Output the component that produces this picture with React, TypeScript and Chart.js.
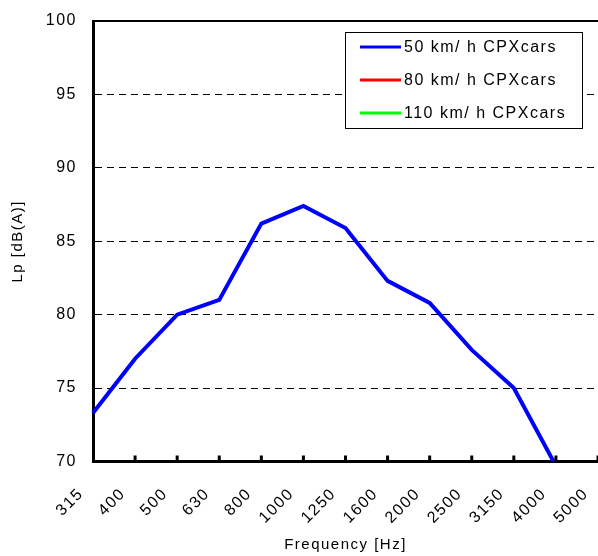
import React, { useEffect, useRef } from "react";
import { Chart, registerables } from "chart.js";

Chart.register(...registerables);

const frequencies = ["315", "400", "500", "630", "800", "1000", "1250", "1600", "2000", "2500", "3150", "4000", "5000"];
const lp50: (number | null)[] = [73.3, 77.0, 80.0, 81.0, 86.2, 87.4, 85.9, 82.3, 80.8, 77.6, 75.0, 69.7, null];
const lp80: (number | null)[] = [];
const lp110: (number | null)[] = [];
const seriesLabels = ["50 km/ h CPXcars", "80 km/ h CPXcars", "110 km/ h CPXcars"];
const seriesColors = ["#0000ff", "#ff0000", "#00ff00"];
const yMin = 70;
const yMax = 100;
const yStep = 5;

const FONT = "'Liberation Sans', Arial, sans-serif";
const SPACING = "1.5px";

const spacingPlugin = {
  id: "spacing",
  beforeInit(chart: any) { chart.ctx.letterSpacing = SPACING; },
  beforeUpdate(chart: any) { chart.ctx.letterSpacing = SPACING; },
  beforeLayout(chart: any) { chart.ctx.letterSpacing = SPACING; },
  beforeDraw(chart: any) { chart.ctx.letterSpacing = SPACING; },
};

const framePlugin = {
  id: "frame",
  afterDraw(chart: any) {
    const { ctx, chartArea } = chart;
    const xs = chart.scales.x;
    ctx.save();
    // top border
    ctx.strokeStyle = "#000";
    ctx.lineWidth = 2;
    ctx.beginPath();
    ctx.moveTo(chartArea.left, chartArea.top);
    ctx.lineTo(chartArea.right, chartArea.top);
    ctx.stroke();
    // inner tick marks on x axis
    ctx.lineWidth = 3;
    ctx.beginPath();
    for (let i = 1; i < xs.ticks.length; i++) {
      const px = xs.getPixelForTick(i);
      ctx.moveTo(px, chartArea.bottom);
      ctx.lineTo(px, chartArea.bottom - 6);
    }
    ctx.stroke();

    // legend box
    const bx = 345, by = 32, bw = 237, bh = 96;
    ctx.fillStyle = "#fff";
    ctx.fillRect(bx, by, bw, bh);
    ctx.lineWidth = 1;
    ctx.strokeStyle = "#000";
    ctx.strokeRect(bx + 0.5, by + 0.5, bw, bh);
    ctx.font = `16px ${FONT}`;
    ctx.textBaseline = "middle";
    ctx.textAlign = "left";
    chart.data.datasets.forEach((ds: any, i: number) => {
      const y = by + 15 + i * 33;
      ctx.strokeStyle = ds.borderColor;
      ctx.lineWidth = 3;
      ctx.beginPath();
      ctx.moveTo(bx + 15, y);
      ctx.lineTo(bx + 56, y);
      ctx.stroke();
      ctx.fillStyle = "#000";
      ctx.fillText(ds.label, bx + 59, y + 1);
    });
    ctx.restore();
  },
};

export default function App() {
  const ref = useRef<HTMLCanvasElement | null>(null);

  useEffect(() => {
    document.body.style.margin = "0";
    const canvas = ref.current!;
    const chart = new Chart(canvas, {
      type: "line",
      data: {
        labels: frequencies,
        datasets: [lp50, lp80, lp110].map((d, i) => ({
          label: seriesLabels[i],
          data: d,
          borderColor: seriesColors[i],
          backgroundColor: seriesColors[i],
          borderWidth: 4,
          pointRadius: 0,
          tension: 0,
          fill: false,
        })),
      },
      options: {
        animation: false,
        responsive: false,
        layout: { padding: { top: 21, right: -2, left: 0, bottom: 0 } },
        plugins: {
          legend: { display: false },
          tooltip: { enabled: false },
        },
        scales: {
          x: {
            type: "category",
            offset: false,
            grid: { display: false, drawTicks: false },
            border: { display: true, color: "#000", width: 3 },
            ticks: {
              minRotation: 45,
              maxRotation: 45,
              autoSkip: false,
              padding: 23,
              labelOffset: -12,
              color: "#000",
              font: { family: FONT, size: 16 },
            },
            title: {
              display: true,
              text: "Frequency [Hz]",
              color: "#000",
              font: { family: FONT, size: 15 },
              padding: { top: 0, bottom: 2 },
            },
            afterFit(scale: any) {
              scale.height = 94.5;
              scale.paddingLeft = 0;
              scale.paddingRight = 0;
            },
          },
          y: {
            min: yMin,
            max: yMax,
            grid: {
              drawTicks: false,
              lineWidth: 1,
              color: (c: any) => (c.tick && (c.tick.value === yMin || c.tick.value === yMax) ? "rgba(0,0,0,0)" : "#000"),
            },
            border: { display: true, color: "#000", width: 3, dash: [7, 5] },
            ticks: {
              stepSize: yStep,
              padding: 16,
              color: "#000",
              font: { family: FONT, size: 16 },
            },
            title: {
              display: true,
              text: "Lp [dB(A)]",
              color: "#000",
              font: { family: FONT, size: 15 },
              padding: { top: 9, bottom: 0 },
            },
            afterFit(scale: any) {
              scale.width = 93;
              scale.paddingTop = 0;
              scale.paddingBottom = 0;
            },
          },
        },
      },
      plugins: [spacingPlugin, framePlugin],
    } as any);
    return () => chart.destroy();
  }, []);

  return (
    <div style={{ width: 598, height: 556 }}>
      <canvas ref={ref} width={598} height={556} style={{ display: "block", width: 598, height: 556 }} />
    </div>
  );
}
